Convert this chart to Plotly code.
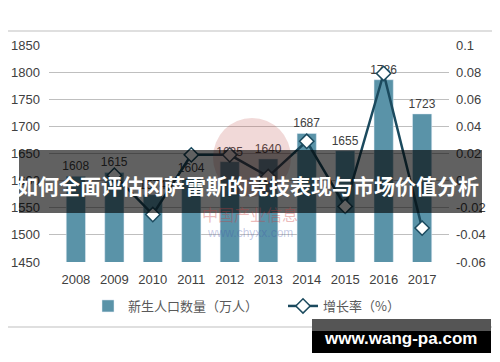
import plotly.graph_objects as go

years = ["2008", "2009", "2010", "2011", "2012", "2013", "2014", "2015", "2016", "2017"]
births = [1608, 1615, 1574, 1604, 1635, 1640, 1687, 1655, 1786, 1723]
growth = [None, 0.004, -0.025, 0.019, 0.019, 0.003, 0.029, -0.019, 0.079, -0.035]
left_ticks = [1450, 1500, 1550, 1600, 1650, 1700, 1750, 1800, 1850]
right_tickvals = [-0.06, -0.04, -0.02, 0, 0.02, 0.04, 0.06, 0.08, 0.1]
right_ticktext = ["-0.06", "-0.04", "-0.02", "0", "0.02", "0.04", "0.06", "0.08", "0.1"]
bar_name = "新生人口数量（万人）"
line_name = "增长率（%）"
banner_text = "如何全面评估冈萨雷斯的竞技表现与市场价值分析"
site_text = "www.wang-pa.com"

# page body has a default 8px margin: work in screen pixels, shift by OFF
OFF = 8
W, H = 500 - OFF, 362 - OFF
SL, SR, ST, SB = 49, 449, 45, 262  # plot area in screen pixels
L, R, T, B = SL - OFF, SR - OFF, ST - OFF, SB - OFF

def px(x):
    return (x - SL) / (SR - SL)

def py(y):
    return (SB - y) / (SB - ST)

FONT = "Liberation Sans, Arial, Noto Sans CJK SC, sans-serif"
CJK = "Noto Sans CJK SC, sans-serif"

fig = go.Figure()
fig.add_trace(go.Bar(
    x=years, y=births, name=bar_name, marker_color="#5a93a8",
    text=[str(v) for v in births], textposition="outside", constraintext="none",
    textfont=dict(size=12, color="#404040", family=FONT),
    width=0.5, cliponaxis=False,
))
fig.add_trace(go.Scatter(
    x=years, y=growth, name=line_name, yaxis="y2", mode="lines+markers",
    line=dict(color="#1b4a5e", width=2.5),
    marker=dict(symbol="diamond", size=11, color="white", line=dict(color="#1b4a5e", width=1.5)),
    connectgaps=False, cliponaxis=False,
))

shapes = [
    dict(type="rect", xref="paper", yref="paper", x0=px(3), x1=px(497), y0=py(327), y1=py(31),
         line=dict(color="#bfbfbf", width=1.2), fillcolor="rgba(0,0,0,0)", layer="below"),
    dict(type="circle", xref="paper", yref="paper", x0=px(213), x1=px(291), y0=py(197), y1=py(118),
         line=dict(width=0), fillcolor="rgba(192,80,77,0.22)", layer="above"),
    dict(type="rect", xref="paper", yref="paper", x0=px(19), x1=px(482), y0=py(213), y1=py(150),
         line=dict(width=0), fillcolor="rgba(0,0,0,0.62)", layer="above"),
    dict(type="rect", xref="paper", yref="paper", x0=px(312), x1=px(491), y0=py(331), y1=py(319),
         line=dict(width=0), fillcolor="#555555", layer="above"),
    dict(type="rect", xref="paper", yref="paper", x0=px(312), x1=px(491), y0=py(353), y1=py(331),
         line=dict(width=0), fillcolor="#000000", layer="above"),
]

def note(text, x, y, font):
    return dict(text=text, xref="paper", yref="paper", x=px(x), y=py(y), showarrow=False,
                xanchor="center", yanchor="middle", font=font)

annotations = [
    note("中国产业信息", 250, 214, dict(size=16, color="rgba(200,60,60,0.35)", family=CJK)),
    note("www.chyxx.com", 250, 233, dict(size=12, color="rgba(60,80,170,0.3)", family=FONT)),
    note("<b>" + banner_text + "</b>", 248, 185, dict(size=21, color="white", family=CJK)),
    note("<b>" + site_text + "</b>", 400, 338,
         dict(size=17, color="white", family="Liberation Sans, Arial, sans-serif")),
]

fig.update_layout(
    width=W, height=H, autosize=False,
    margin=dict(l=L, r=W - R, t=T, b=H - B, autoexpand=False),
    paper_bgcolor="white", plot_bgcolor="white",
    showlegend=True,
    legend=dict(orientation="h", x=px(88), y=py(306), xanchor="left", yanchor="middle",
                font=dict(size=13, color="#595959", family=CJK),
                entrywidth=150, entrywidthmode="pixels", bgcolor="rgba(0,0,0,0)"),
    xaxis=dict(type="category", showgrid=False, showline=False, ticks="", ticklabelstandoff=8,
               tickfont=dict(size=13, color="#404040", family=FONT)),
    yaxis=dict(range=[1450, 1850], tickvals=left_ticks, showgrid=True, gridcolor="#bfbfbf",
               gridwidth=1, zeroline=False, showline=False, ticks="", ticklabelstandoff=8,
               tickfont=dict(size=13, color="#404040", family=FONT)),
    yaxis2=dict(range=[-0.06, 0.1], overlaying="y", side="right", tickvals=right_tickvals,
                ticktext=right_ticktext, showgrid=False, zeroline=False, showline=False, ticks="",
                ticklabelstandoff=6, tickfont=dict(size=13, color="#404040", family=FONT)),
    shapes=shapes, annotations=annotations, bargap=0.5,
)

fig.write_html("out.html")
